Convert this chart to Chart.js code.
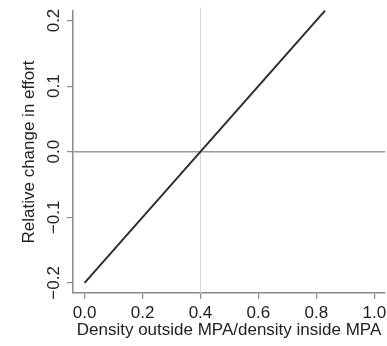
<!DOCTYPE html>
<html>
<head>
<meta charset="utf-8">
<script src="https://cdn.jsdelivr.net/npm/chart.js@4"></script>
<style>
  body { margin: 0; background: #fff; }
  #wrap { width: 387px; height: 346px; }
</style>
</head>
<body>
<div id="wrap"><canvas id="myChart"></canvas></div>
<script>
// values
var densityRatio = [0, 0.83];
var effortChange = [-0.2, 0.215];
var zeroLineX = [-0.04, 1.037];
var zeroLineY = [0, 0];
var breakEvenX = [0.4, 0.4];
var breakEvenY = [-0.2154, 0.22];
var xTicks = [0, 0.2, 0.4, 0.6, 0.8, 1.0];
var yTicks = [-0.2, -0.1, 0, 0.1, 0.2];

function pts(xs, ys) {
    return xs.map(function (x, i) { return {x: x, y: ys[i]}; });
}
function fmt(v) {
    var s = Math.abs(v).toFixed(1);
    return v < -1e-9 ? '\u2212' + s : s;
}

Chart.defaults.font.family = '"Liberation Sans", Arial, Helvetica, sans-serif';
Chart.defaults.color = '#222222';

var ctx = document.getElementById('myChart').getContext('2d');
var myChart = new Chart(ctx, {
    type: 'scatter',
    data: {
        datasets: [{
            data: pts(densityRatio, effortChange),
            showLine: true,
            borderColor: '#2e2e2e',
            borderWidth: 2,
            pointRadius: 0,
            clip: false
        }, {
            data: pts(zeroLineX, zeroLineY),
            showLine: true,
            borderColor: '#9a9a9a',
            borderWidth: 1.6,
            pointRadius: 0
        }, {
            data: pts(breakEvenX, breakEvenY),
            showLine: true,
            borderColor: '#d6d6d6',
            borderWidth: 1,
            pointRadius: 0,
            clip: false
        }]
    },
    options: {
        responsive: true,
        maintainAspectRatio: false,
        animation: false,
        layout: { padding: { left: 0, right: 2, top: 11, bottom: 0 } },
        plugins: {
            legend: { display: false },
            tooltip: { enabled: false }
        },
        scales: {
            x: {
                type: 'linear',
                min: -0.04,
                max: 1.037,
                afterBuildTicks: function (scale) {
                    scale.ticks = xTicks.map(function (v) { return {value: v}; });
                },
                afterFit: function (scale) {
                    scale.height = 53;
                    scale.paddingLeft = 0;
                    scale.paddingRight = 0;
                },
                grid: { drawOnChartArea: false, drawTicks: true, tickLength: 6, color: '#8a8a8a', lineWidth: 1.2 },
                border: { display: true, color: '#8a8a8a', width: 1.5 },
                ticks: {
                    padding: 4,
                    maxRotation: 0,
                    autoSkip: false,
                    font: { size: 17 },
                    callback: function (v) { return fmt(v); }
                },
                title: {
                    display: true,
                    text: 'Density outside MPA/density inside MPA',
                    font: { size: 17 },
                    padding: { top: 0, bottom: 5 }
                }
            },
            y: {
                type: 'linear',
                min: -0.2154,
                max: 0.2145,
                afterBuildTicks: function (scale) {
                    scale.ticks = yTicks.map(function (v) { return {value: v}; });
                },
                afterFit: function (scale) {
                    scale.width = 73;
                    scale.paddingTop = 0;
                    scale.paddingBottom = 0;
                },
                grid: { drawOnChartArea: false, drawTicks: true, tickLength: 6, color: '#8a8a8a', lineWidth: 1.2 },
                border: { display: true, color: '#8a8a8a', width: 1.5 },
                ticks: {
                    padding: -4.5,
                    minRotation: 90,
                    maxRotation: 90,
                    crossAlign: 'center',
                    autoSkip: false,
                    font: { size: 17 },
                    callback: function (v) { return fmt(v); }
                },
                title: {
                    display: true,
                    text: 'Relative change in effort',
                    font: { size: 17 },
                    padding: { top: 19.5, bottom: 0 }
                }
            }
        }
    }
});
</script>
</body>
</html>
